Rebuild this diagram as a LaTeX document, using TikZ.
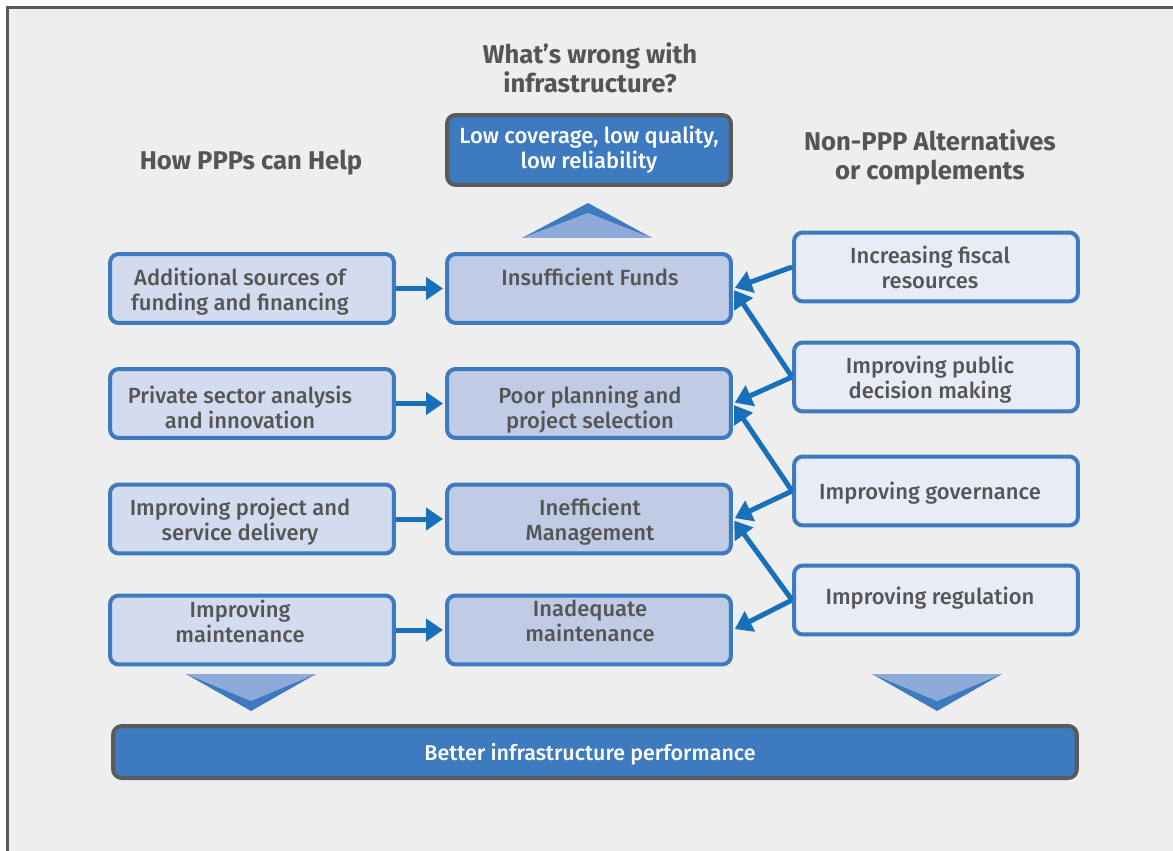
\documentclass[tikz,border=0pt]{standalone}
\usepackage{fontspec}
\setmainfont{Fira Sans}
\newfontfamily\boxfont{Fira Sans Medium}
\usepackage{tikz}
\usetikzlibrary{arrows.meta}
\definecolor{frame}{HTML}{5A5A5A}
\definecolor{paper}{HTML}{EEEEEE}
\definecolor{ink}{HTML}{555555}
\definecolor{pppblue}{HTML}{3D7ABF}
\definecolor{arrowblue}{HTML}{1770B9}
\definecolor{lightchev}{HTML}{8EAAD8}
\definecolor{leftfill}{HTML}{D3DCEE}
\definecolor{midfill}{HTML}{C0CBE6}
\definecolor{rightfill}{HTML}{E8ECF6}

\begin{document}
\begin{tikzpicture}[x=0.02cm,y=-0.02cm,
  box/.style={draw=pppblue,line width=0.08cm,rounded corners=5pt,minimum width=5.68cm,minimum height=1.38cm,inner sep=0pt},
  leftbox/.style={box,fill=leftfill},
  midbox/.style={box,fill=midfill},
  rightbox/.style={box,fill=rightfill},
  darkbox/.style={box,draw=frame,fill=pppblue,text=white,align=center,font=\boxfont\fontsize{12.5}{14.2}\selectfont},
  boxtext/.style={align=center,text=ink,font=\boxfont\fontsize{12.5}{14.2}\selectfont},
  heading/.style={align=center,text=ink,font=\fontsize{14.6}{16.5}\selectfont\bfseries},
  link/.style={draw=arrowblue,line width=0.1cm,shorten >=0.04cm,-{Triangle[length=0.34cm,width=0.44cm]}}]
\useasboundingbox (0,0) rectangle (1173,851);
\clip (0,0) rectangle (1173,851);
\fill[white] (0,0) rectangle (1173,851);
\draw[frame,line width=0.06cm,fill=paper] (7.5,7.5) rectangle (1190,870);

\node[heading] (wrong) at (590,68) {What’s wrong with\\infrastructure?};
\node[heading] (help) at (251,163) {How PPPs can Help};
\node[heading] (alt) at (930,157) {Non-PPP Alternatives\\or complements};

\node[darkbox,minimum height=1.40cm] (top) at (589,150) {Low coverage, low quality,\\low reliability};

\node[leftbox] (l1) at (252,288.5) {};
\node[leftbox] (l2) at (252,403.5) {};
\node[leftbox] (l3) at (252,519) {};
\node[leftbox] (l4) at (252,630) {};
\node[boxtext] (l1t) at ([shift={(-12,3)}]l1) {Additional sources of\\funding and financing};
\node[boxtext] (l2t) at ([shift={(-12,4)}]l2) {Private sector analysis\\and innovation};
\node[boxtext] (l3t) at ([shift={(-12,3)}]l3) {Improving project and\\service delivery};
\node[boxtext] (l4t) at ([shift={(-12,-9)}]l4) {Improving\\maintenance};

\node[midbox] (m1) at (589,288.5) {};
\node[midbox] (m2) at (589,403.5) {};
\node[midbox] (m3) at (589,519) {};
\node[midbox] (m4) at (589,630) {};
\node[boxtext] (m1t) at ([shift={(1,-12)}]m1) {Insufficient Funds};
\node[boxtext] (m2t) at ([shift={(1,6)}]m2) {Poor planning and\\project selection};
\node[boxtext] (m3t) at ([shift={(1,3)}]m3) {Inefficient\\Management};
\node[boxtext] (m4t) at ([shift={(1,-9)}]m4) {Inadequate\\maintenance};

\node[rightbox] (r1) at (936,267) {};
\node[rightbox] (r2) at (936,377) {};
\node[rightbox] (r3) at (936,491) {};
\node[rightbox] (r4) at (936,600) {};
\node[boxtext] (r1t) at ([shift={(-6,0)}]r1) {Increasing fiscal\\resources};
\node[boxtext] (r2t) at ([shift={(-6,3)}]r2) {Improving public\\decision making};
\node[boxtext] (r3t) at ([shift={(-6,2)}]r3) {Improving governance};
\node[boxtext] (r4t) at ([shift={(-6,-2)}]r4) {Improving regulation};

\node[darkbox,minimum width=19.28cm,minimum height=1.04cm] (better) at (595,752) {};
\node[boxtext,text=white,font=\boxfont\fontsize{12.2}{14.2}\selectfont] (bettert) at ([shift={(-5,2)}]better) {Better infrastructure performance};

\fill[pppblue] (522,238) -- (588,203) -- (652,238) -- cycle;
\fill[lightchev] (522,238) -- (588,213) -- (652,238) -- cycle;
\foreach \cx in {251,937} {
  \fill[pppblue] (\cx-65,674) -- (\cx,711) -- (\cx+65,674) -- cycle;
  \fill[lightchev] (\cx-65,674) -- (\cx,701) -- (\cx+65,674) -- cycle;
}

\foreach \i in {1,...,4}
  \draw[link] (l\i.east) -- (m\i.west);
\foreach \i/\j in {1/1,2/1,2/2,3/2,3/3,4/3,4/4}
  \draw[link] (r\i.west) -- (m\j.east);
\end{tikzpicture}
\end{document}
